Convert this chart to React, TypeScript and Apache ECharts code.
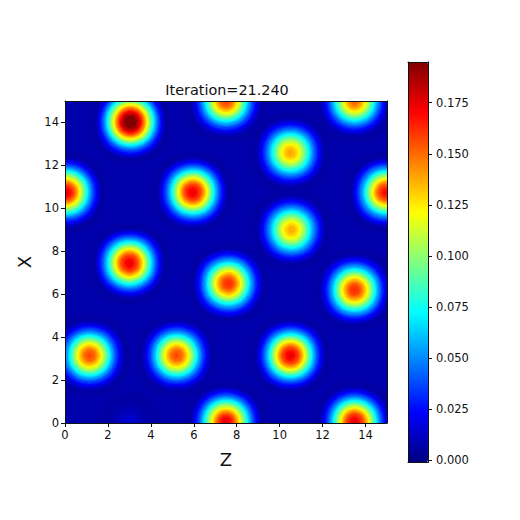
import React, { useEffect, useRef } from "react";
import * as echarts from "echarts";

const zTicks = [0, 2, 4, 6, 8, 10, 12, 14];
const xTicks = [0, 2, 4, 6, 8, 10, 12, 14];
const colorbarTicks = [0, 0.025, 0.05, 0.075, 0.1, 0.125, 0.15, 0.175];
const jet = ["#00007f", "#0000ff", "#007fff", "#00ffff", "#7fff7f", "#ffff00", "#ff7f00", "#ff0000", "#7f0000"];
// extra stops: the blurred brush peaks well below full opacity, so the jet ramp ends there
const jetForBrush = [...jet, ...Array(19).fill("#7f0000")];
// [Z, X, density] of each peak
const peaks = [
  [3.05, 13.95, 0.192], [3.05, 14.4, 0.05], [7.5, 15.0, 0.172], [13.5, 15.0, 0.165],
  [10.5, 12.6, 0.152], [0.05, 10.75, 0.19], [5.95, 10.75, 0.192], [14.95, 10.75, 0.186],
  [10.55, 9.0, 0.15], [3.0, 7.45, 0.192], [7.6, 6.5, 0.178], [13.5, 6.2, 0.178],
  [1.15, 3.15, 0.172], [5.2, 3.15, 0.172], [10.5, 3.15, 0.192], [7.5, 0.05, 0.19],
  [13.5, 0.05, 0.192], [3.0, 0.0, 0.02],
];

const rectMap = {
  type: "FeatureCollection",
  features: [{ type: "Feature", properties: { name: "plane" },
    geometry: { type: "Polygon", coordinates: [[[0, 0], [15, 0], [15, 15], [0, 15], [0, 0]]] } }],
};

const font = "DejaVu Sans";
const ink = "#111";

export default function App() {
  const ref = useRef<HTMLDivElement>(null);
  useEffect(() => {
    document.body.style.margin = "0";
    echarts.registerMap("plane", rectMap as any);
    const chart = echarts.init(ref.current!, null, { renderer: "svg" });
    const plotAxisBase = {
      type: "value", min: 0, max: 15, z: 5,
      axisLine: { show: true, onZero: false, lineStyle: { color: ink, width: 1 } },
      splitLine: { show: false },
    };
    const plain = { axisTick: { show: false }, axisLabel: { show: false } };
    const barAxis = {
      z: 5,
      axisLine: { show: true, onZero: false, lineStyle: { color: ink, width: 1 } },
      splitLine: { show: false }, axisTick: { show: false }, axisLabel: { show: false },
    };
    chart.setOption({
      animation: false,
      backgroundColor: "#fff",
      textStyle: { fontFamily: font },
      title: {
        text: "Iteration=21.240", left: 222, top: 78, textAlign: "center",
        textStyle: { fontFamily: font, fontSize: 14.4, fontWeight: "normal", color: ink },
      },
      grid: [
        { left: 65, top: 101, width: 322, height: 322 },
        { left: 408, top: 62, width: 20, height: 400.5 },
      ],
      xAxis: [
        { ...plotAxisBase, gridIndex: 0, position: "bottom", interval: 2, name: "Z", nameLocation: "middle", nameGap: 27,
          nameTextStyle: { fontFamily: font, fontSize: 18, color: ink },
          axisTick: { show: true, length: 4, lineStyle: { color: ink }, customValues: zTicks },
          axisLabel: { show: true, fontFamily: font, fontSize: 11.5, color: ink, margin: 6, customValues: zTicks } },
        { ...plotAxisBase, ...plain, gridIndex: 0, position: "top" },
        { type: "value", gridIndex: 1, position: "bottom", min: 0, max: 1, ...barAxis },
        { type: "value", gridIndex: 1, position: "top", min: 0, max: 1, ...barAxis },
      ],
      yAxis: [
        { ...plotAxisBase, gridIndex: 0, position: "left", interval: 2, name: "X", nameLocation: "middle", nameGap: 28,
          nameTextStyle: { fontFamily: font, fontSize: 18, color: ink },
          axisTick: { show: true, length: 4, lineStyle: { color: ink }, customValues: xTicks },
          axisLabel: { show: true, fontFamily: font, fontSize: 11.5, color: ink, margin: 6, customValues: xTicks } },
        { ...plotAxisBase, ...plain, gridIndex: 0, position: "right" },
        { type: "value", gridIndex: 1, position: "right", min: -0.001, max: 0.1949, z: 5,
          axisLine: { show: true, onZero: false, lineStyle: { color: ink, width: 1 } },
          splitLine: { show: false },
          axisTick: { show: true, length: 4, lineStyle: { color: ink }, customValues: colorbarTicks },
          axisLabel: { show: true, fontFamily: font, fontSize: 11.5, color: ink, margin: 8, customValues: colorbarTicks,
            formatter: (v: number) => v.toFixed(3) } },
        { type: "value", gridIndex: 1, position: "left", min: -0.001, max: 0.1949, ...barAxis },
      ],
      geo: {
        map: "plane", left: 65, top: 101, width: 322, height: 322, aspectScale: 1, roam: false, silent: true,
        boundingCoords: [[0, 15], [15, 0]],
        label: { show: false },
        itemStyle: { areaColor: "#0000ac", borderWidth: 0 },
      },
      visualMap: [
        { type: "continuous", show: false, min: -0.001, max: 0.1949, seriesIndex: 0, inRange: { color: jetForBrush } },
        { type: "continuous", min: -0.001, max: 0.1949, seriesIndex: 1, calculable: false, hoverLink: false,
          left: 408, top: 62, itemWidth: 20, itemHeight: 400.5, text: ["", ""], showLabel: false,
          padding: 0, inRange: { color: jet } },
      ],
      series: [
        { type: "heatmap", coordinateSystem: "geo", data: peaks,
          pointSize: 12, blurSize: 30, minOpacity: 0, maxOpacity: 33 },
        { type: "scatter", xAxisIndex: 2, yAxisIndex: 2, data: [] },
      ],
    });
    return () => chart.dispose();
  }, []);
  return <div ref={ref} style={{ width: 520, height: 520 }} />;
}
